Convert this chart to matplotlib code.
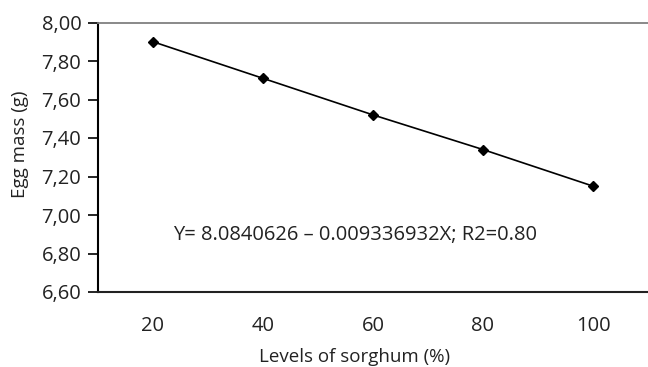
import matplotlib
matplotlib.use("Agg")
import matplotlib.pyplot as plt
from matplotlib.ticker import FuncFormatter

plt.rcParams['font.family'] = ['Open Sans', 'DejaVu Sans']

levels = [20, 40, 60, 80, 100]
egg_mass = [7.90, 7.71, 7.52, 7.34, 7.15]
y_ticks = [6.60, 6.80, 7.00, 7.20, 7.40, 7.60, 7.80, 8.00]
equation = "Y= 8.0840626 \u2013 0.009336932X; R2=0.80"

fig = plt.figure(figsize=(6.48, 3.67), dpi=100)
ax = fig.add_axes([98/648, 1-292/367, 1-98/648, (292-22.5)/367])

ax.plot(levels, egg_mass, color='black', lw=1.2, marker='D', markersize=5.5,
        markerfacecolor='black', markeredgecolor='black')

ax.set_xlim(10, 110)
ax.set_ylim(6.60, 8.00)
ax.set_yticks(y_ticks)
ax.yaxis.set_major_formatter(FuncFormatter(lambda v, p: f"{v:.2f}".replace('.', ',')))
ax.set_xticks(levels)

ax.spines['right'].set_visible(False)
ax.spines['top'].set_color('#808080')
ax.spines['top'].set_linewidth(1.3)
ax.spines['left'].set_linewidth(1.5)
ax.spines['bottom'].set_linewidth(1.5)
ax.spines['bottom'].set_color('#222222')

ax.tick_params(axis='y', direction='out', length=7, width=1.2, pad=5, labelsize=14.5)
ax.tick_params(axis='x', length=0, pad=17, labelsize=14.5)
for lab in ax.get_xticklabels() + ax.get_yticklabels():
    lab.set_color('#222222')

ax.text(0.137, 1-(235-22.5)/(292-22.5), equation, transform=ax.transAxes,
        fontsize=14.5, color='#222222', va='center', ha='left')

fig.text(355/648, 1-357/367, "Levels of sorghum (%)", ha='center', va='center',
         fontsize=13.5, color='#222222')
fig.text(20/648, 1-144/367, "Egg mass (g)", ha='center', va='center', rotation=90,
         fontsize=13.5, color='#222222')

fig.savefig("out.png", dpi=100)
